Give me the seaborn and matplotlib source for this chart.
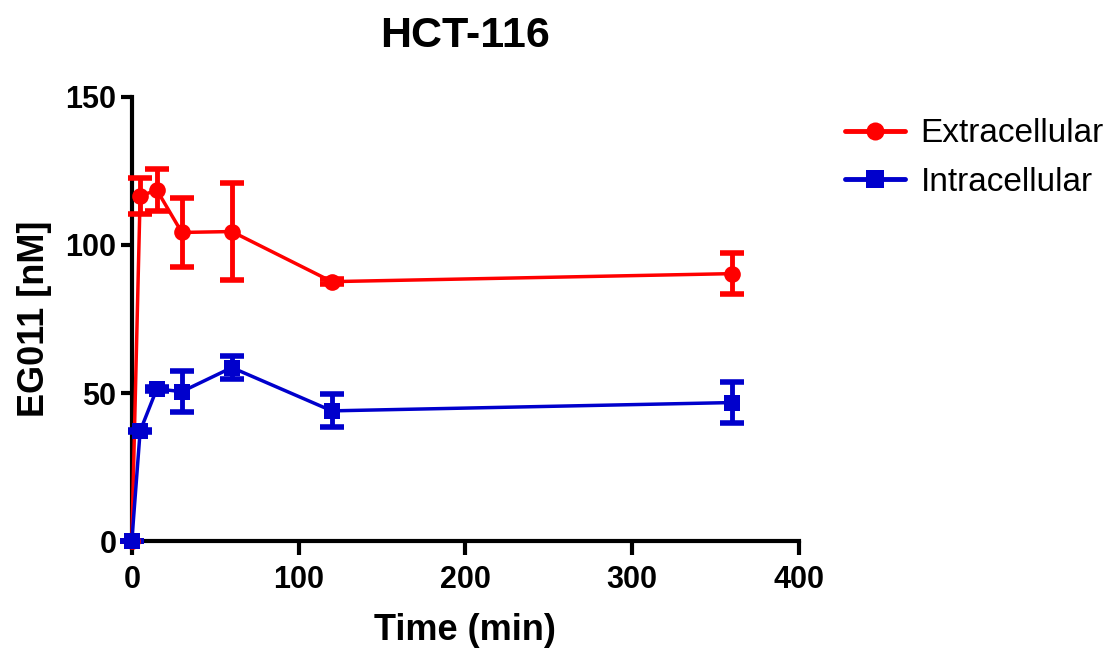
import matplotlib
matplotlib.use("Agg")
import matplotlib.pyplot as plt
import seaborn as sns
import pandas as pd
import numpy as np
from matplotlib.lines import Line2D

time_min = [0, 5, 15, 30, 60, 120, 360]
extra_mean = [0, 116.5, 118.5, 104.2, 104.5, 87.6, 90.3]
extra_sd = [0, 6.0, 7.0, 11.7, 16.5, 0.8, 7.0]
intra_mean = [0, 37.2, 51.4, 50.5, 58.6, 44.0, 46.8]
intra_sd = [0, 0.5, 0.8, 7.0, 4.0, 5.6, 7.0]
series_names = ["Extracellular", "Intracellular"]
colors = ["#FF0000", "#0000CC"]
markers = ["o", "s"]

sns.set_theme(style="white")
plt.rcParams['font.family'] = ['Liberation Sans', 'DejaVu Sans']
plt.rcParams['text.color'] = 'black'
plt.rcParams['axes.labelcolor'] = 'black'
plt.rcParams['xtick.color'] = 'black'
plt.rcParams['ytick.color'] = 'black'

df = pd.DataFrame({
    "Time": time_min * 2,
    "Value": extra_mean + intra_mean,
    "SD": extra_sd + intra_sd,
    "Series": [series_names[0]] * len(time_min) + [series_names[1]] * len(time_min),
})

fig = plt.figure(figsize=(11.17, 6.49), dpi=100)
ax = fig.add_axes([0.118, 0.166, 0.597, 0.685])

for name, col, mk in zip(series_names, colors, markers):
    sub = df[df["Series"] == name]
    ax.errorbar(sub["Time"], sub["Value"], yerr=sub["SD"], fmt="none",
                ecolor=col, elinewidth=3.5, capsize=8.5, capthick=4, zorder=3,
                clip_on=False)

sns.lineplot(data=df, x="Time", y="Value", hue="Series", style="Series",
             palette=colors, markers=markers, dashes=False, linewidth=2.5,
             markersize=12, markeredgewidth=0, ax=ax, zorder=4, clip_on=False,
             legend=False)

ax.set_xlim(0, 400)
ax.set_ylim(0, 150)
ax.set_xticks([0, 100, 200, 300, 400])
ax.set_yticks([0, 50, 100, 150])
for s in ["top", "right"]:
    ax.spines[s].set_visible(False)
for s in ["left", "bottom"]:
    ax.spines[s].set_linewidth(3)
    ax.spines[s].set_color("black")
ax.tick_params(axis="both", direction="out", length=10, width=3, color="black",
               labelsize=22, pad=3, bottom=True, left=True, labelcolor="black")
ax.tick_params(axis="x", pad=7)
ax.tick_params(axis="y", length=8)
for lab in ax.get_xticklabels() + ax.get_yticklabels():
    lab.set_fontweight("bold")

ax.set_xlabel("Time (min)", fontsize=26, fontweight="bold", labelpad=13)
ax.set_ylabel("EG011 [nM]", fontsize=26, fontweight="bold", labelpad=10)
ax.set_title("HCT-116", fontsize=31, fontweight="bold", pad=36)

handles = [Line2D([0], [0], color=c, marker=m, linewidth=3.5, markersize=13,
                  markeredgewidth=0) for c, m in zip(colors, markers)]
fig.legend(handles, series_names, loc="upper left", bbox_to_anchor=(0.745, 0.838),
           frameon=False, fontsize=24, handlelength=1.8, labelspacing=0.52,
           handletextpad=0.45, borderaxespad=0)

fig.savefig("out.png", dpi=100)
